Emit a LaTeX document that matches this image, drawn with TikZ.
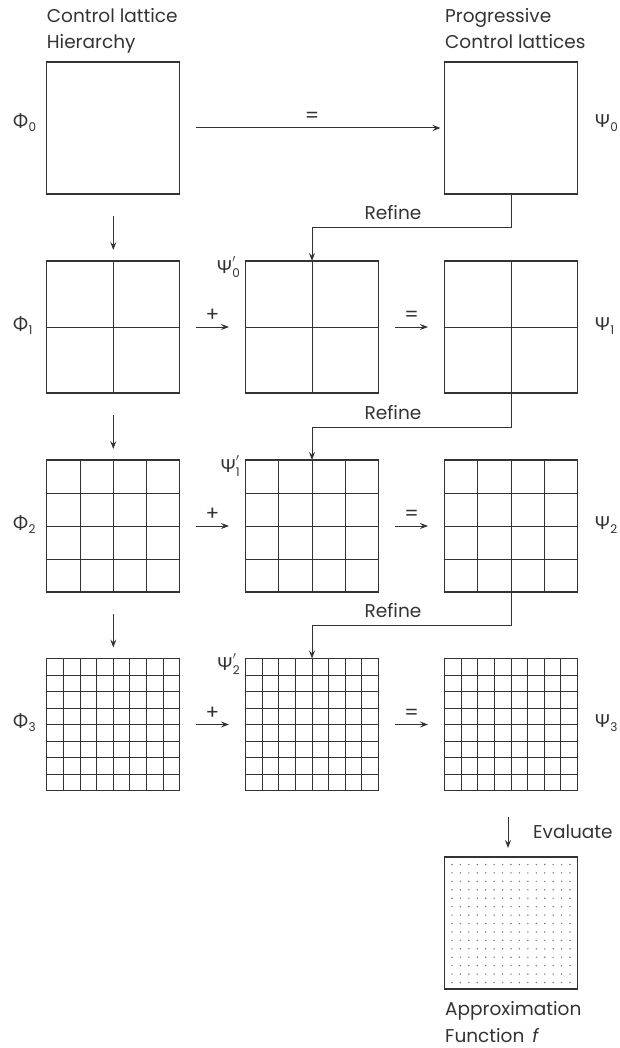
\documentclass[tikz,border=0pt]{standalone}
\usepackage{fontspec}
\setmainfont{Poppins}
\newfontfamily\gk{Lato}
\usetikzlibrary{arrows.meta,calc}

\definecolor{ink}{HTML}{333333}
\definecolor{dotcol}{HTML}{777777}

% subscripted lattice names
\newcommand\lname[2]{{\gk\fontsize{18}{18}\selectfont #1}\kern0.5pt\raisebox{-4pt}{\fontsize{12}{12}\selectfont #2}}
% primed and subscripted names, prime set above the index
\newcommand\lnamep[2]{{\gk\fontsize{18}{18}\selectfont #1}\kern0.5pt\rlap{\raisebox{4pt}{\fontsize{16}{16}\selectfont$'$}}\raisebox{-4pt}{\fontsize{12}{12}\selectfont #2}}

% interior grid lines of a lattice node: \latgrid{node}{divisions}
\newcommand\latgrid[2]{%
  \foreach \i in {1,...,\numexpr#2-1\relax}{%
    \draw[gridline] ($(#1.north west)!\i/#2!(#1.north east)$) -- ($(#1.south west)!\i/#2!(#1.south east)$);
    \draw[gridline] ($(#1.north west)!\i/#2!(#1.south west)$) -- ($(#1.north east)!\i/#2!(#1.south east)$);
  }}

\tikzset{
  lattice/.style={draw=ink, line width=1.1pt, minimum width=133pt, minimum height=132pt,
    inner sep=0pt, outer sep=0pt},
  gridline/.style={draw=ink, line width=1pt},
  arr/.style={draw=ink, line width=1pt, -{Stealth[length=8pt,width=6pt,inset=3pt]}},
  txt/.style={inner sep=0pt, text=ink, font=\fontsize{18.5}{18.5}\selectfont},
  sym/.style={inner sep=0pt, text=ink, font=\fontsize{20}{20}\selectfont},
}

\begin{document}
\begin{tikzpicture}[x=1pt, y=-1pt]
\useasboundingbox (0,0) rectangle (620,1048);

% column headings
\node[txt, anchor=base west] (h1) at (46.7,23) {Control lattice};
\node[txt, anchor=base west] (h2) at (46.7,49) {Hierarchy};
\node[txt, anchor=base west] (h3) at (445,23) {Progressive};
\node[txt, anchor=base west] (h4) at (445,49) {Control lattices};

% hierarchy column
\node[lattice] (L0) at (113.3,128) {};
\node[lattice] (L1) at (113.3,327) {};
\node[lattice] (L2) at (113.3,526) {};
\node[lattice] (L3) at (113.3,724.5) {};

% refined lattices
\node[lattice] (M1) at (312,327) {};
\node[lattice] (M2) at (312,526) {};
\node[lattice] (M3) at (312,724.5) {};

% progressive column
\node[lattice] (R0) at (511,128) {};
\node[lattice] (R1) at (511,327) {};
\node[lattice] (R2) at (511,526) {};
\node[lattice] (R3) at (511,724.5) {};

% evaluated function
\node[lattice] (F) at (511,923) {};

\latgrid{L1}{2}
\latgrid{M1}{2}
\latgrid{R1}{2}
\latgrid{L2}{4}
\latgrid{M2}{4}
\latgrid{R2}{4}
\latgrid{L3}{8}
\latgrid{M3}{8}
\latgrid{R3}{8}

\foreach \i in {0,...,14}{
  \foreach \j in {0,...,14}{
    \fill[dotcol] ($(F.north west)+(7.5+\i*8.43,7.5+\j*8.43)$) circle (0.8pt);
  }}

% names
\node[txt, anchor=base west] (p0) at (13,128) {\lname{Φ}{0}};
\node[txt, anchor=base west] (p1) at (13,330) {\lname{Φ}{1}};
\node[txt, anchor=base west] (p2) at (13,529) {\lname{Φ}{2}};
\node[txt, anchor=base west] (p3) at (13,727.5) {\lname{Φ}{3}};
\node[txt, anchor=base west] (s0) at (595,128) {\lname{Ψ}{0}};
\node[txt, anchor=base west] (s1) at (595,330) {\lname{Ψ}{1}};
\node[txt, anchor=base west] (s2) at (595,529) {\lname{Ψ}{2}};
\node[txt, anchor=base west] (s3) at (595,727.5) {\lname{Ψ}{3}};
\node[txt, anchor=base east] (q0) at (240,273) {\lnamep{Ψ}{0}};
\node[txt, anchor=base east] (q1) at (240,472) {\lnamep{Ψ}{1}};
\node[txt, anchor=base east] (q2) at (240,670) {\lnamep{Ψ}{2}};

% first level is copied directly
\draw[arr] ($(L0.east)+(16,0)$) -- ($(R0.west)+(-4,0)$);
\node[sym] (e0) at (312,117) {=};

% downward steps of the hierarchy
\draw[arr] ($(L0.south)+(0,22)$) -- ($(L1.north)+(0,-11)$);
\draw[arr] ($(L1.south)+(0,22)$) -- ($(L2.north)+(0,-11)$);
\draw[arr] ($(L2.south)+(0,22)$) -- ($(L3.north)+(0,-11)$);

% add and assign at each level
\foreach \k in {1,2,3}{
  \draw[arr] ($(L\k.east)+(16,0)$) -- node[sym, above=5pt] {+} ($(M\k.west)+(-16.5,0)$);
  \draw[arr] ($(M\k.east)+(16.5,0)$) -- node[sym, above=5pt] {=} ($(R\k.west)+(-16.5,0)$);
}

% refinement feedback
\draw[arr] (R0.south) -- ++(0,34) -| (M1.north);
\draw[arr] (R1.south) -- ++(0,34) -| (M2.north);
\draw[arr] (R2.south) -- ++(0,33) -| (M3.north);
\node[txt, anchor=base] (r1) at (393,220) {Refine};
\node[txt, anchor=base] (r2) at (393,419) {Refine};
\node[txt, anchor=base] (r3) at (393,617) {Refine};

% evaluation
\draw[arr] ($(R3.south)+(-3,26)$) -- ($(F.north)+(-3,-9)$);
\node[txt, anchor=base west] (ev) at (533,838) {Evaluate};
\node[txt, anchor=base west] (a1) at (445,1015) {Approximation};
\node[txt, anchor=base west] (a2) at (445,1042) {Function\hspace{8pt}\textit{f}};
\end{tikzpicture}
\end{document}
